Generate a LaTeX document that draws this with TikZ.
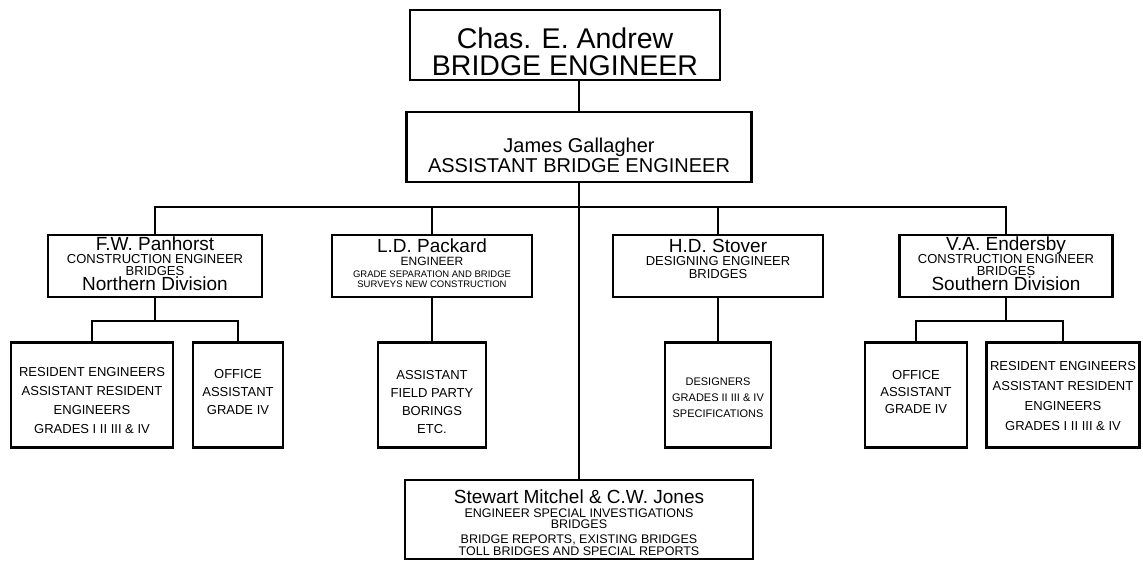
\documentclass[tikz,border=0pt]{standalone}
\usepackage{fontspec}
\setmainfont{Liberation Sans}
\setlength{\lineskiplimit}{-50pt}
\newcommand{\chartbig}{\fontsize{28.5}{27}\selectfont}
\newcommand{\chartmid}{\fontsize{20}{20}\selectfont}
\newcommand{\chartname}{\fontsize{19}{17}\selectfont}
\newcommand{\chartsmall}{\fontsize{13}{11}\selectfont}
\newcommand{\chartsub}{\fontsize{12}{11}\selectfont}
\newcommand{\charttiny}{\fontsize{9.5}{9}\selectfont}
\newcommand{\chartkid}{\fontsize{13}{19}\selectfont}
\newcommand{\chartkidsm}{\fontsize{11}{16}\selectfont}
\begin{document}
\begin{tikzpicture}[x=1pt,y=-1pt,
  box/.style={draw,line width=2.4pt,inner sep=0pt,align=center},
  link/.style={line width=1.2pt}]
\useasboundingbox (0,0) rectangle (1143,560);

\node[box,font=\chartbig,text height=60pt,text depth=0pt,minimum width=310,minimum height=70] (andrew) at (565,45) {Chas. E. Andrew\\BRIDGE ENGINEER};
\node[box,font=\chartmid,text height=50pt,text depth=0pt,minimum width=345,minimum height=70] (gallagher) at (579,147) {James Gallagher\\ASSISTANT BRIDGE ENGINEER};

\foreach \x/\w/\h/\d/\n/\t in {155/214/54/6/panhorst/{\chartname F.W. Panhorst\\[2pt]CONSTRUCTION ENGINEER\\[1pt]BRIDGES\\[4pt]\chartname Northern Division},
  432/200/49/7/packard/{\chartname L.D. Packard\\[2pt]\chartsub ENGINEER\\[1pt]\charttiny GRADE SEPARATION AND BRIDGE\\[-1pt]\charttiny SURVEYS NEW CONSTRUCTION},
  718/210/40/16/stover/{\chartname H.D. Stover\\[2pt]DESIGNING ENGINEER\\[2pt]BRIDGES},
  1006/213/54/6/endersby/{\chartname V.A. Endersby\\[2pt]CONSTRUCTION ENGINEER\\[1pt]BRIDGES\\[4pt]\chartname Southern Division}}
  \node[box,font=\chartsmall,text height=\h pt,text depth=\d pt,minimum width=\w,minimum height=62] (\n) at (\x,266) {\t};

\foreach \x/\w/\h/\d/\n/\t in {92/162/76/0/panres/{RESIDENT ENGINEERS\\ASSISTANT RESIDENT\\ENGINEERS\\GRADES I II III \& IV},
  238/90/46/8/panoffice/{OFFICE\\[-1pt]ASSISTANT\\[-1pt]GRADE IV},
  432/108/76/0/packchild/{ASSISTANT\\[-1pt]FIELD PARTY\\[-1pt]BORINGS\\[-1pt]ETC.},
  718/106/44/0/stochild/{\chartkidsm DESIGNERS\\[-3pt]\chartkidsm GRADES II III \& IV\\[-3pt]\chartkidsm SPECIFICATIONS},
  916/102/44/8/endoffice/{OFFICE\\[-2pt]ASSISTANT\\[-2pt]GRADE IV},
  1063/153/70/0/endres/{RESIDENT ENGINEERS\\[1pt]ASSISTANT RESIDENT\\[1pt]ENGINEERS\\[1pt]GRADES I II III \& IV}}
  \node[box,font=\chartkid,text height=\h pt,text depth=\d pt,minimum width=\w,minimum height=105] (\n) at (\x,395) {\t};

\node[box,font=\fontsize{12.5}{12}\selectfont,text height=71pt,text depth=0pt,minimum width=348,minimum height=79] (mitchel) at (579,519.5) {\chartname Stewart Mitchel \& C.W. Jones\\[2pt]ENGINEER SPECIAL INVESTIGATIONS\\[-1pt]BRIDGES\\[3pt]BRIDGE REPORTS, EXISTING BRIDGES\\TOLL BRIDGES AND SPECIAL REPORTS};

\coordinate (bar) at (0,207);
\coordinate (subbar) at (0,321);

\draw[link] (gallagher.north) -- (gallagher.north |- andrew.south);
\draw[link] (gallagher.south) -- (mitchel.north);
\draw[link] (panhorst.north) |- (endersby.north |- bar) -- (endersby.north);
\foreach \n in {packard,stover}
  \draw[link] (\n.north) -- (\n.north |- bar);
\foreach \p/\c in {packard/packchild,stover/stochild}
  \draw[link] (\p.south) -- (\c.north);
\foreach \p/\a/\b in {panhorst/panres/panoffice,endersby/endoffice/endres} {
  \draw[link] (\p.south) -- (\p.south |- subbar);
  \draw[link] (\a.north) |- (\b.north |- subbar) -- (\b.north);
}

\end{tikzpicture}
\end{document}
